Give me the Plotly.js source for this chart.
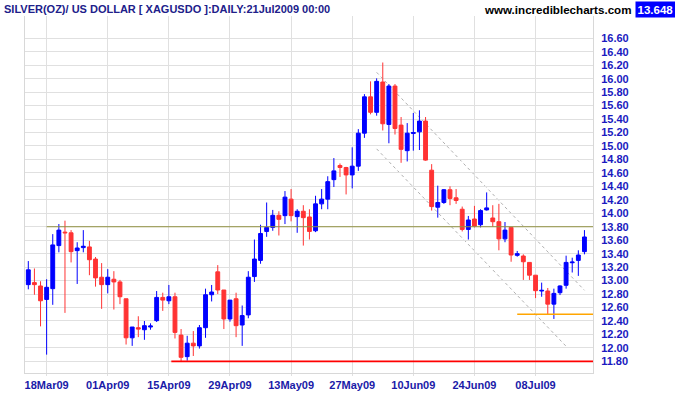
<!DOCTYPE html>
<html><head><meta charset="utf-8">
<script src="https://cdn.plot.ly/plotly-3.0.1.min.js"></script>
<style>html,body{margin:0;padding:0;background:#fff}#chart{width:675px;height:395px}</style>
</head><body><div id="chart"></div>
<script>
// trading days (weekdays) from 13 Mar 2009 to 20 Jul 2009
function weekdays(start, end) {
  const out = [];
  const d = new Date(start + 'T00:00:00Z');
  const e = new Date(end + 'T00:00:00Z');
  while (d <= e) {
    const w = d.getUTCDay();
    if (w !== 0 && w !== 6) out.push(d.toISOString().slice(0, 10));
    d.setUTCDate(d.getUTCDate() + 1);
  }
  return out;
}
const dates = weekdays('2009-03-13', '2009-07-20');

const open = [12.94,12.97,12.92,12.72,12.88,13.52,13.72,13.71,13.445,13.49,
13.50,13.32,13.05,12.94,13.02,12.98,12.73,12.15,12.30,12.27,
12.31,12.405,12.75,12.70,12.76,12.19,11.87,12.07,12.03,12.30,
12.79,13.13,12.86,12.43,12.73,12.34,12.49,13.06,13.30,13.73,
13.79,13.97,13.965,14.21,13.95,14.03,13.945,13.74,14.14,14.21,
14.50,14.71,14.68,14.57,14.70,15.19,15.73,15.50,15.95,15.32,
15.89,15.31,14.93,15.185,15.21,15.37,14.64,14.09,14.16,14.35,
14.23,14.06,13.76,13.915,13.83,14.05,13.93,13.875,13.62,13.79,
13.375,13.365,13.27,13.08,12.845,12.845,12.65,12.82,12.93,13.265,
13.30,13.43];
const high = [13.29,13.18,12.99,13.02,13.69,13.84,13.89,13.75,13.57,13.75,
13.59,13.35,13.26,13.17,13.14,13.01,12.73,12.31,12.47,12.40,
12.365,12.845,12.82,12.935,12.82,12.28,12.18,12.25,12.34,12.88,
12.935,13.23,12.86,12.71,12.82,12.63,13.14,13.61,13.83,14.16,
14.05,14.03,14.33,14.36,14.06,14.12,14.06,14.26,14.36,14.55,
14.82,14.74,14.69,14.98,15.25,15.77,15.96,16.005,16.24,15.92,
15.92,15.43,15.34,15.49,15.53,15.43,14.73,14.41,14.36,14.40,
14.36,14.10,13.96,14.11,14.06,14.31,14.12,14.14,13.87,13.79,
13.44,13.39,13.27,13.08,12.97,12.89,12.88,12.93,13.37,13.34,
13.45,13.75];
const low = [12.87,12.79,12.32,11.90,12.64,13.42,12.52,13.27,12.95,13.42,
13.08,12.91,12.58,12.81,12.57,12.65,12.05,12.03,12.16,12.12,
12.27,12.385,12.55,12.65,12.14,11.79,11.81,11.88,11.99,12.15,
12.69,12.80,12.28,12.39,12.16,12.03,12.44,12.98,13.25,13.65,
13.74,13.67,13.84,13.88,13.71,13.52,13.61,13.72,14.06,14.06,
14.39,14.54,14.28,14.37,14.63,15.12,15.47,15.45,15.23,15.04,
15.17,14.75,14.77,14.93,14.94,14.78,14.04,13.935,14.14,14.12,
14.14,13.73,13.61,13.79,13.79,14.04,13.80,13.45,13.57,13.28,
13.355,13.01,13.01,12.74,12.76,12.50,12.43,12.785,12.88,13.12,
13.07,13.39];
const close = [13.16,12.94,12.70,12.90,13.53,13.75,13.71,13.43,13.484,13.51,
13.31,13.04,12.94,13.05,12.98,12.76,12.15,12.31,12.28,12.33,
12.325,12.75,12.71,12.76,12.23,11.86,12.07,12.03,12.30,12.79,
12.83,12.86,12.43,12.71,12.33,12.48,13.05,13.32,13.70,13.79,
13.97,13.91,14.24,13.965,14.03,13.935,13.73,14.14,14.21,14.47,
14.63,14.68,14.57,14.70,15.19,15.73,15.50,15.96,15.33,15.89,
15.26,14.95,15.19,15.20,15.37,14.79,14.10,14.16,14.35,14.22,
14.19,13.76,13.90,13.81,14.04,14.08,13.875,13.62,13.75,13.38,
13.40,13.28,13.08,12.85,12.855,12.65,12.81,12.92,13.27,13.275,
13.38,13.648];

const xTickDates = ['2009-03-18','2009-04-01','2009-04-15','2009-04-29','2009-05-13','2009-05-27','2009-06-10','2009-06-24','2009-07-08'];
const xTickText = ['18Mar09','01Apr09','15Apr09','29Apr09','13May09','27May09','10Jun09','24Jun09','08Jul09'];
const yTickVals = [11.8,12.0,12.2,12.4,12.6,12.8,13.0,13.2,13.4,13.6,13.8,14.0,14.2,14.4,14.6,14.8,15.0,15.2,15.4,15.6,15.8,16.0,16.2,16.4,16.6];

// horizontal levels: price and start date
const levelPrice = [13.80, 11.80, 12.50];
const levelStart = ['2009-03-18', '2009-04-15', '2009-07-03'];
// channel lines: [startDate, startPrice, endDate, endPrice]
const channelUpper = ['2009-06-02', 16.094, '2009-07-20', 12.856];
const channelLower = ['2009-06-02', 14.957, '2009-07-15', 12.024];

const lastPrice = '13.648';
const titleText = 'SILVER(OZ)/ US DOLLAR [ XAGUSDO ]:DAILY:21Jul2009 00:00';
const siteText = 'www.incrediblecharts.com';

const FONT = 'Liberation Sans, Arial, sans-serif';
const xRange = [-0.54, 92.4];
const idx = d => dates.indexOf(d);

const trace = {
  type: 'candlestick',
  x: dates, open: open, high: high, low: low, close: close,
  increasing: {line: {color: '#0000FF', width: 1}, fillcolor: '#0000FF'},
  decreasing: {line: {color: '#FF3333', width: 1}, fillcolor: '#FF3333'},
  whiskerwidth: 0,
  hoverinfo: 'x+y'
};

const levelColors = ['#909040', '#FF0000', '#FFA500'];
const levelWidths = [1, 1.6, 1.3];
const shapes = levelPrice.map((p, k) => ({
  type: 'line', xref: 'x', yref: 'y', layer: 'above',
  x0: idx(levelStart[k]) - (k === 1 ? -0.4 : 0), x1: xRange[1], y0: p, y1: p,
  line: {color: levelColors[k], width: levelWidths[k]}
}));
[channelUpper, channelLower].forEach(c => shapes.push({
  type: 'line', xref: 'x', yref: 'y', layer: 'below',
  x0: idx(c[0]), y0: c[1], x1: idx(c[2]), y1: c[3],
  line: {color: '#b0b0b0', width: 1, dash: 'dot'}
}));

const layout = {
  width: 675, height: 395,
  margin: {l: 25, r: 82, t: 16, b: 22, pad: 0},
  paper_bgcolor: '#ffffff', plot_bgcolor: '#ffffff',
  showlegend: false,
  boxgap: 0.1, boxgroupgap: 0.3,
  title: {
    text: titleText, x: 4 / 675, xanchor: 'left', xref: 'container',
    y: 1 - 9.5 / 395, yanchor: 'middle', yref: 'container',
    font: {family: FONT, size: 11, color: '#20208a', weight: 'bold'}
  },
  xaxis: {
    type: 'category', range: xRange, rangeslider: {visible: false},
    tickmode: 'array', tickvals: xTickDates, ticktext: xTickText,
    showgrid: true, gridcolor: '#e0e0e0', gridwidth: 1,
    showline: true, linecolor: '#d8d8d8', linewidth: 1,
    ticks: 'outside', ticklen: 2, tickcolor: '#e0e0e0',
    tickfont: {family: FONT, size: 11, color: '#1a1aa8', weight: 'bold'},
    fixedrange: true
  },
  yaxis: {
    side: 'right', range: [11.627, 16.931],
    tickmode: 'array', tickvals: yTickVals, tickformat: '.2f',
    showgrid: true, gridcolor: '#e0e0e0', gridwidth: 1,
    showline: true, mirror: true, linecolor: '#d8d8d8', linewidth: 1,
    ticks: '', ticklabelstandoff: 5, zeroline: false,
    tickfont: {family: FONT, size: 11, color: '#1a1ac0', weight: 'bold'},
    fixedrange: true
  },
  shapes: shapes,
  annotations: [
    {text: siteText, xref: 'paper', yref: 'paper', x: (633 - 25) / 568, xanchor: 'right',
     y: (373 - 9.5) / 357, yanchor: 'middle', showarrow: false,
     font: {family: FONT, size: 11.6, color: '#000000', weight: 'bold'}},
    {text: lastPrice, xref: 'paper', yref: 'paper', x: (635 - 25) / 568, xanchor: 'left',
     y: (373 - 9) / 357, yanchor: 'middle', showarrow: false, bgcolor: '#0000FF',
     borderpad: 1.5, font: {family: FONT, size: 11.5, color: '#ffffff', weight: 'bold'}}
  ]
};

Plotly.newPlot('chart', [trace], layout, {displayModeBar: false, staticPlot: true});
</script></body></html>
